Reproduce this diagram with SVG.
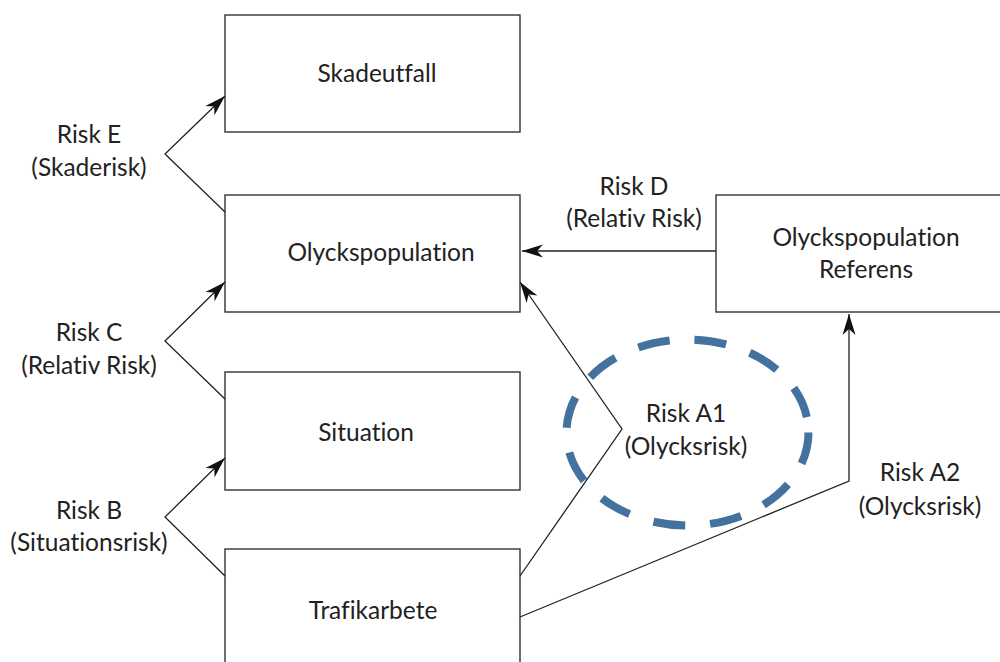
<svg xmlns="http://www.w3.org/2000/svg" width="1000" height="662" viewBox="0 0 1000 662">
<defs>
<style>
.box{fill:#fff;stroke:#333;stroke-width:1.4}
.t{font-family:Lato,"Open Sans","Liberation Sans",sans-serif;font-size:24.5px;fill:#222;text-anchor:middle;dominant-baseline:central;font-variant-ligatures:none}
.c{fill:none;stroke:#222;stroke-width:1.3}
</style>
<marker id="ah" markerUnits="userSpaceOnUse" markerWidth="22" markerHeight="14" refX="21" refY="6.5" orient="auto" viewBox="0 0 22 13">
<path d="M0,0 L21,6.5 L0,13 L6,6.5 Z" fill="#111"/>
</marker>
</defs>
<rect width="1000" height="662" fill="#fff"/>
<g id="skadeutfall"><rect class="box" x="225" y="15" width="295" height="117"/><text class="t" x="377" y="72">Skadeutfall</text></g>
<g id="olyckspopulation"><rect class="box" x="225" y="195" width="295" height="117"/><text class="t" x="381" y="251">Olyckspopulation</text></g>
<g id="situation"><rect class="box" x="225" y="372" width="295" height="118"/><text class="t" x="366" y="431">Situation</text></g>
<g id="trafikarbete"><rect class="box" x="225" y="549" width="295" height="130"/><text class="t" x="373" y="609">Trafikarbete</text></g>
<g id="referens"><rect class="box" x="716" y="195" width="300" height="117"/><text class="t" x="866" y="236">Olyckspopulation</text><text class="t" x="866" y="268">Referens</text></g>
<g id="ellipse"><ellipse cx="687.5" cy="432.5" rx="121" ry="93" fill="none" stroke="#44729f" stroke-width="8" stroke-dasharray="32 25"/></g>
<g id="connectors">
<polyline class="c" points="225,212 165,154 225,96" marker-end="url(#ah)"/>
<polyline class="c" points="225,399 165,341 225,282" marker-end="url(#ah)"/>
<polyline class="c" points="225,576 165,517 225,458" marker-end="url(#ah)"/>
<line class="c" x1="716" y1="251" x2="522" y2="251" marker-end="url(#ah)"/>
<polyline class="c" points="520,576 622,429 520,282" marker-end="url(#ah)"/>
<polyline class="c" points="520,617 849,481 849,314" marker-end="url(#ah)"/>
</g>
<g id="labels">
<text class="t" x="89" y="133">Risk E</text><text class="t" x="89" y="166">(Skaderisk)</text>
<text class="t" x="89" y="331">Risk C</text><text class="t" x="89" y="364">(Relativ Risk)</text>
<text class="t" x="89" y="509">Risk B</text><text class="t" x="89" y="541">(Situationsrisk)</text>
<text class="t" x="634" y="185">Risk D</text><text class="t" x="634" y="217">(Relativ Risk)</text>
<text class="t" x="686" y="412">Risk A1</text><text class="t" x="686" y="445">(Olycksrisk)</text>
<text class="t" x="920" y="471">Risk A2</text><text class="t" x="920" y="505">(Olycksrisk)</text>
</g>
</svg>
